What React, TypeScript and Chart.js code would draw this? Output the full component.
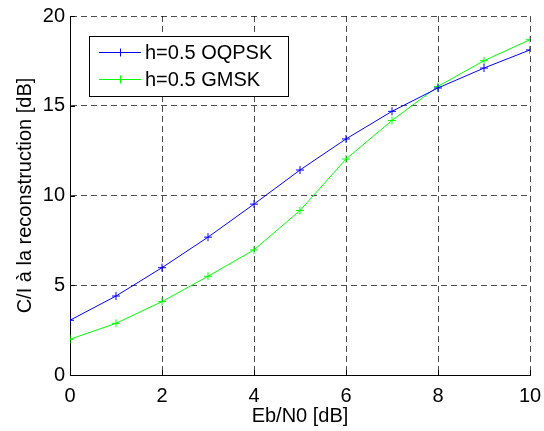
import React, { useEffect, useRef } from "react";
import { Chart, registerables } from "chart.js";

Chart.register(...registerables);

const ebN0 = [0, 1, 2, 3, 4, 5, 6, 7, 8, 9, 10];
const oqpsk = [3.05, 4.4, 5.98, 7.68, 9.52, 11.42, 13.15, 14.69, 15.99, 17.1, 18.11];
const gmsk = [1.99, 2.88, 4.09, 5.5, 6.97, 9.16, 12.03, 14.18, 16.08, 17.51, 18.68];
const seriesLabels = ["h=0.5 OQPSK", "h=0.5 GMSK"];
const xTitle = "Eb/N0 [dB]";
const yTitle = "C/I à la reconstruction [dB]";

const FONT = "'Liberation Sans', Arial, sans-serif";
const FS = 20;

const tickMarks = {
  id: "tickMarks",
  afterDraw(chart: any) {
    const { ctx, chartArea, scales } = chart;
    ctx.save();
    ctx.strokeStyle = "#000";
    ctx.lineWidth = 1;
    ctx.beginPath();
    scales.x.ticks.forEach((t: any) => {
      const px = Math.round(scales.x.getPixelForValue(t.value)) + 0.5;
      ctx.moveTo(px, chartArea.bottom);
      ctx.lineTo(px, chartArea.bottom - 5);
    });
    scales.y.ticks.forEach((t: any) => {
      const py = Math.round(scales.y.getPixelForValue(t.value)) + 0.5;
      ctx.moveTo(chartArea.left, py);
      ctx.lineTo(chartArea.left + 5, py);
    });
    ctx.stroke();
    ctx.restore();
  },
};

const boxLegend = {
  id: "boxLegend",
  afterDraw(chart: any) {
    const { ctx } = chart;
    const x0 = 89.5, y0 = 36.5, w = 199, h = 60;
    ctx.save();
    ctx.fillStyle = "#fff";
    ctx.fillRect(x0, y0, w, h);
    ctx.strokeStyle = "#000";
    ctx.lineWidth = 1;
    ctx.strokeRect(x0, y0, w, h);
    const rows = [52.5, 79.5];
    chart.data.datasets.forEach((ds: any, i: number) => {
      const y = rows[i];
      ctx.strokeStyle = ds.borderColor;
      ctx.lineWidth = 1;
      ctx.beginPath();
      ctx.moveTo(99, y);
      ctx.lineTo(141, y);
      ctx.moveTo(120.5, y - 4);
      ctx.lineTo(120.5, y + 4);
      ctx.moveTo(116.5, y);
      ctx.lineTo(124.5, y);
      ctx.stroke();
      ctx.fillStyle = "#000";
      ctx.font = `${FS}px ${FONT}`;
      ctx.textBaseline = "middle";
      ctx.textAlign = "left";
      ctx.fillText(ds.label, 145, y + 1);
    });
    ctx.restore();
  },
};

export default function App() {
  const ref = useRef<HTMLCanvasElement>(null);
  useEffect(() => {
    document.body.style.margin = "0";
    const chart = new Chart(ref.current!, {
      type: "line",
      data: {
        datasets: [
          {
            label: seriesLabels[0],
            data: ebN0.map((x, i) => ({ x, y: oqpsk[i] })),
            borderColor: "#0000ff",
            backgroundColor: "#0000ff",
            borderWidth: 1,
            pointStyle: "cross",
            pointRadius: 4,
            pointBorderWidth: 1,
            pointHoverRadius: 4,
            fill: false,
            tension: 0,
          },
          {
            label: seriesLabels[1],
            data: ebN0.map((x, i) => ({ x, y: gmsk[i] })),
            borderColor: "#00ff00",
            backgroundColor: "#00ff00",
            borderWidth: 1,
            pointStyle: "cross",
            pointRadius: 4,
            pointBorderWidth: 1,
            pointHoverRadius: 4,
            fill: false,
            tension: 0,
          },
        ],
      },
      options: {
        animation: false,
        responsive: false,
        maintainAspectRatio: false,
        layout: { padding: { left: 0, right: 14, top: 16, bottom: 0 } },
        plugins: {
          legend: { display: false },
          tooltip: { enabled: false },
        },
        scales: {
          x: {
            type: "linear",
            min: 0,
            max: 10,
            ticks: {
              stepSize: 2,
              color: "#000",
              font: { family: FONT, size: FS },
              padding: 9,
              maxRotation: 0,
            },
            grid: {
              color: "rgba(0,0,0,0.7)",
              lineWidth: 1,
              drawTicks: false,
            },
            border: { display: true, color: "#000", width: 1, dash: [6, 4] },
            title: {
              display: true,
              text: xTitle,
              color: "#000",
              font: { family: FONT, size: FS },
              padding: { top: 0, bottom: 3 },
            },
            afterFit: (s: any) => {
              s.height = 56;
              s.paddingLeft = 0;
              s.paddingRight = 0;
            },
          },
          y: {
            type: "linear",
            min: 0,
            max: 20,
            ticks: {
              stepSize: 5,
              color: "#000",
              font: { family: FONT, size: FS },
              padding: 5,
            },
            grid: {
              color: "rgba(0,0,0,0.7)",
              lineWidth: 1,
              drawTicks: false,
            },
            border: { display: true, color: "#000", width: 1, dash: [6, 4] },
            title: {
              display: true,
              text: yTitle,
              color: "#000",
              font: { family: FONT, size: FS },
              padding: { top: 13, bottom: 0 },
            },
            afterFit: (s: any) => {
              s.width = 70;
              s.paddingTop = 0;
              s.paddingBottom = 0;
            },
          },
        },
      },
      plugins: [tickMarks, boxLegend],
    });
    return () => chart.destroy();
  }, []);
  return (
    <div style={{ width: 544, height: 431, background: "#fff" }}>
      <canvas ref={ref} width={544} height={431} style={{ display: "block" }} />
    </div>
  );
}
